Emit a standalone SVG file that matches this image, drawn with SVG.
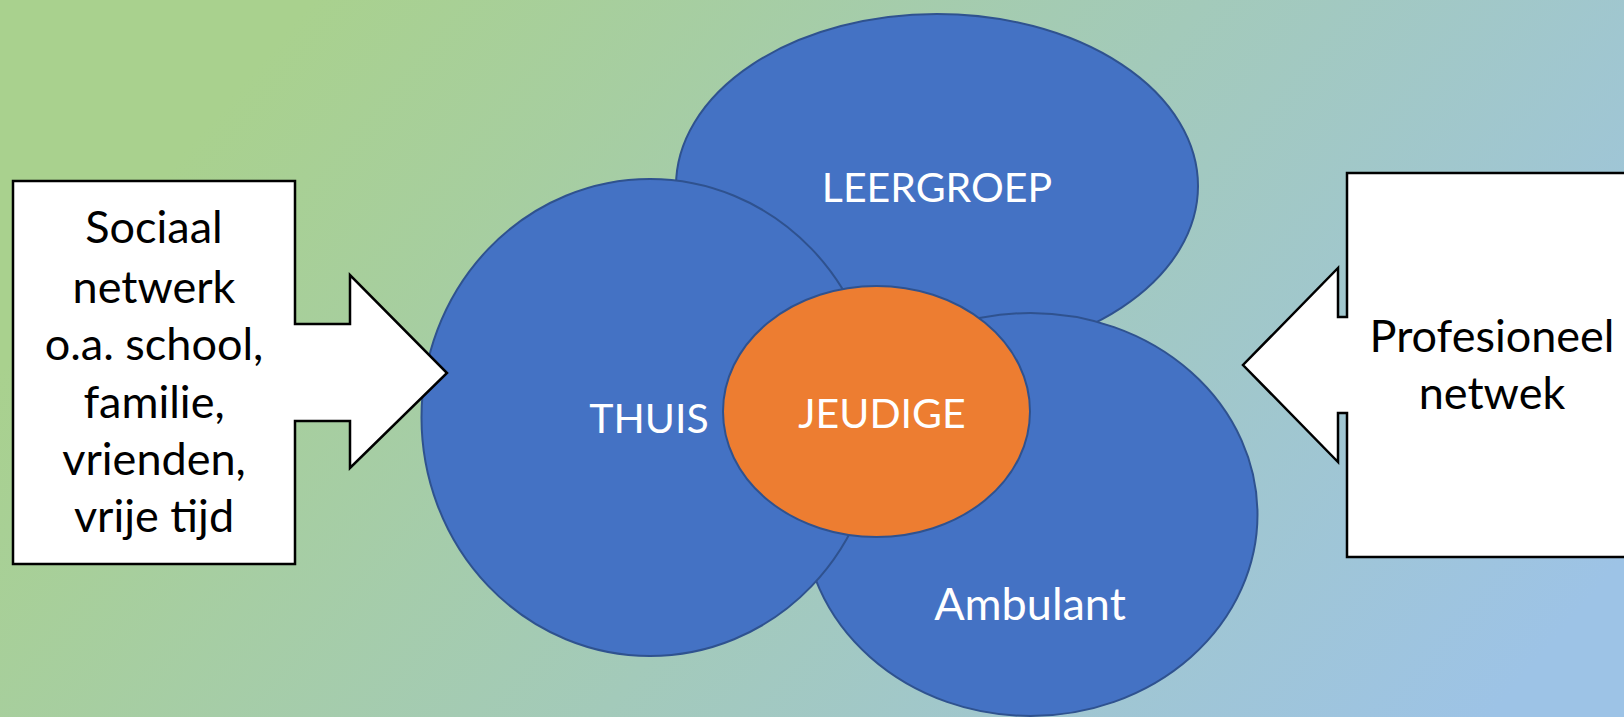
<svg xmlns="http://www.w3.org/2000/svg" width="1624" height="717" viewBox="0 0 1624 717">
  <defs>
    <linearGradient id="bg" gradientUnits="userSpaceOnUse" x1="380" y1="-80" x2="1420" y2="800">
      <stop offset="0" stop-color="#a9d18e"/>
      <stop offset="1" stop-color="#9dc3e6"/>
    </linearGradient>
  </defs>
  <style>
    .ell { fill: #4472c4; stroke: #2f528f; stroke-width: 2; }
    .core { fill: #ed7d31; stroke: #2f528f; stroke-width: 2; }
    .arrow { fill: #ffffff; stroke: #000000; stroke-width: 2.5; stroke-linejoin: miter; }
    .wt { fill: #ffffff; font-family: Lato, "Open Sans", "Liberation Sans", sans-serif; font-size: 41px; text-anchor: middle; }
    .wl { font-size: 45px; }
    .bt { fill: #000000; font-family: Lato, "Open Sans", "Liberation Sans", sans-serif; font-size: 45px; text-anchor: middle; }
  </style>
  <rect x="0" y="0" width="1624" height="717" fill="url(#bg)"/>
  <g id="leergroep">
    <ellipse class="ell" cx="937" cy="186" rx="261" ry="172"/>
    <text class="wt" x="937" y="202">LEERGROEP</text>
  </g>
  <g id="ambulant">
    <ellipse class="ell" cx="1030.5" cy="514.5" rx="227" ry="201.5"/>
    <text class="wt wl" x="1030" y="620">Ambulant</text>
  </g>
  <g id="thuis">
    <ellipse class="ell" cx="650" cy="417.5" rx="228.5" ry="238.5"/>
    <text class="wt" x="649" y="433">THUIS</text>
  </g>
  <g id="jeudige">
    <ellipse class="core" cx="876.5" cy="411.5" rx="153.5" ry="125.5"/>
    <text class="wt" x="882" y="428">JEUDIGE</text>
  </g>
  <g id="connectors">
    <g id="sociaal-netwerk">
      <path class="arrow" d="M13,181 H295 V324 H350 V275 L447,373 L350,468 V421 H295 V564 H13 Z"/>
      <text class="bt" x="154" y="243">Sociaal</text>
      <text class="bt" x="154" y="303">netwerk</text>
      <text class="bt" x="154" y="360">o.a. school,</text>
      <text class="bt" x="154" y="418">familie,</text>
      <text class="bt" x="154" y="475">vrienden,</text>
      <text class="bt" x="154" y="532">vrije tijd</text>
    </g>
    <g id="profesioneel-netwerk">
      <path class="arrow" d="M1347,173 H1640 V557 H1347 V413 H1338 V462 L1243,365 L1338,268 V317 H1347 Z"/>
      <text class="bt" x="1492" y="352">Profesioneel</text>
      <text class="bt" x="1492" y="409">netwek</text>
    </g>
  </g>
</svg>
